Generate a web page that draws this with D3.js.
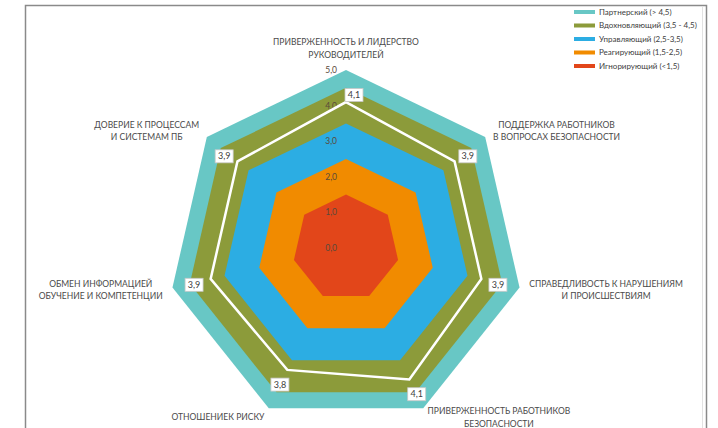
<!DOCTYPE html>
<html>
<head>
<meta charset="utf-8">
<script src="https://cdn.jsdelivr.net/npm/d3@7"></script>
<style>
	body { margin:0; background:#fff; }
	svg text { font-family: Lato, "Noto Sans", sans-serif; }
</style>
</head>
<body>
<div id="viz-container"></div>
<script>
// categories, clockwise from the top
var categories = [
	["ПРИВЕРЖЕННОСТЬ И ЛИДЕРСТВО", "РУКОВОДИТЕЛЕЙ"],
	["ПОДДЕРЖКА РАБОТНИКОВ", "В ВОПРОСАХ БЕЗОПАСНОСТИ"],
	["СПРАВЕДЛИВОСТЬ К НАРУШЕНИЯМ", "И ПРОИСШЕСТВИЯМ"],
	["ПРИВЕРЖЕННОСТЬ РАБОТНИКОВ", "БЕЗОПАСНОСТИ"],
	["ОТНОШЕНИЕК РИСКУ"],
	["ОБМЕН ИНФОРМАЦИЕЙ", "ОБУЧЕНИЕ И КОМПЕТЕНЦИИ"],
	["ДОВЕРИЕ К ПРОЦЕССАМ", "И СИСТЕМАМ ПБ"]
];
var scores = [4.1, 3.9, 3.9, 4.1, 3.8, 3.9, 3.9];

// level bands (outer edge of each band)
var bandNames = ["Партнерский (> 4,5)", "Вдохновляющий (3,5 - 4,5)", "Управляющий (2,5-3,5)", "Реагирующий (1,5-2,5)", "Игнорирующий (<1,5)"];
var bandLimits = [5.0, 4.5, 3.5, 2.5, 1.5];
var bandColors = ["#68c7c5", "#8c9b3a", "#2cade3", "#f18b00", "#e2461a"];

var tickValues = [0, 1, 2, 3, 4, 5];

var width = 718, height = 428;
var cx = 346, cy = 248, radius = 178;

var svg = d3.select('#viz-container')
		.append('svg')
			.attr('width', width)
			.attr('height', height);

// frame
svg.append('path')
	.attr('d', 'M25.5,' + height + 'V5.5H706.5V' + height)
	.attr('fill', 'none')
	.attr('stroke', '#8a8a8a')
	.attr('stroke-width', 1.5);
svg.append('line')
	.attr('x1', 702.5).attr('x2', 702.5)
	.attr('y1', 6).attr('y2', height)
	.attr('stroke', '#e2e2e2');

var rScale = d3.scaleLinear()
		.domain([0, 5])
		.range([0, radius]);

var n = categories.length;
var angle = function(i){ return i * 2 * Math.PI / n; };

var g = svg.append('g')
		.attr('transform', 'translate(' + cx + ',' + cy + ')');

var radial = d3.lineRadial()
		.angle(function(d, i){ return angle(i); })
		.radius(function(d){ return rScale(d); })
		.curve(d3.curveLinearClosed);

// bands
g.selectAll('.band')
	.data(bandLimits)
	.enter()
		.append('path')
		.attr('class', 'band')
		.attr('d', function(d){ return radial(categories.map(function(){ return d; })); })
		.attr('fill', function(d, i){ return bandColors[i]; });

// tick labels
g.selectAll('.tick-label')
	.data(tickValues)
	.enter()
		.append('text')
		.attr('class', 'tick-label')
		.attr('x', -9)
		.attr('y', function(d){ return -rScale(d); })
		.attr('dy', '0.35em')
		.attr('text-anchor', 'end')
		.attr('font-size', 8.5)
		.attr('fill', '#5a4a3a')
		.text(function(d){ return d.toFixed(1).replace('.', ','); });

// score line
g.append('path')
	.attr('d', radial(scores))
	.attr('fill', 'none')
	.attr('stroke', '#fff')
	.attr('stroke-width', 2.5)
	.attr('stroke-linejoin', 'miter');

// score labels
var lab = g.selectAll('.score')
	.data(scores)
	.enter()
		.append('g')
		.attr('class', 'score')
		.attr('transform', function(d, i){
			var a = angle(i),
				s = Math.sin(a), c = -Math.cos(a),
				x = rScale(d) * s + s * 17,
				y = rScale(d) * c + c * 13 + 3;
			if (Math.abs(s) < 0.1) { x += 8; y += 3; }
			return 'translate(' + x + ',' + y + ')';
		});

lab.append('rect')
	.attr('x', -9).attr('y', -6.5)
	.attr('width', 18).attr('height', 13)
	.attr('fill', '#fff')
	.attr('stroke', '#c8c8c8')
	.attr('stroke-width', 0.8);

lab.append('text')
	.attr('text-anchor', 'middle')
	.attr('dy', '0.35em')
	.attr('font-size', 9)
	.attr('fill', '#404040')
	.text(function(d){ return d.toFixed(1).replace('.', ','); });

// category labels
var labelR = radius + 10;
var cat = g.selectAll('.cat')
	.data(categories)
	.enter()
		.append('text')
		.attr('class', 'cat')
		.attr('font-size', 8.5)
		.attr('fill', '#4a4a4a')
		.attr('text-anchor', 'middle');

cat.each(function(lines, i){
	var a = angle(i),
		s = Math.sin(a), c = -Math.cos(a),
		px = labelR * s, py = labelR * c,
		lh = 12.5,
		t = d3.select(this);
	var widths = lines.map(function(l){
		var tmp = t.append('tspan').text(l);
		var w = tmp.node().getComputedTextLength();
		tmp.remove();
		return w;
	});
	var bw = d3.max(widths);
	var mid;
	if (Math.abs(s) < 0.1) mid = px;
	else if (s > 0) mid = px + bw / 2;
	else mid = px - bw / 2;
	var top;
	if (Math.abs(s) < 0.1) top = py + 1 - lines.length * lh;
	else top = py - lines.length * lh / 2;
	lines.forEach(function(l, k){
		t.append('tspan')
			.attr('x', mid)
			.attr('y', top + k * lh + lh / 2)
			.attr('dy', '0.35em')
			.text(l);
	});
});

// legend
var legend = svg.append('g')
		.attr('transform', 'translate(574,12)');

var item = legend.selectAll('.item')
	.data(bandNames)
	.enter()
		.append('g')
		.attr('class', 'item')
		.attr('transform', function(d, i){ return 'translate(0,' + (i * 13.5) + ')'; });

item.append('rect')
	.attr('x', 0).attr('y', -2)
	.attr('width', 21).attr('height', 4)
	.attr('fill', function(d, i){ return bandColors[i]; });

item.append('text')
	.attr('x', 25)
	.attr('dy', '0.35em')
	.attr('font-size', 8)
	.attr('fill', '#404040')
	.text(function(d){ return d; });
</script>
</body>
</html>
